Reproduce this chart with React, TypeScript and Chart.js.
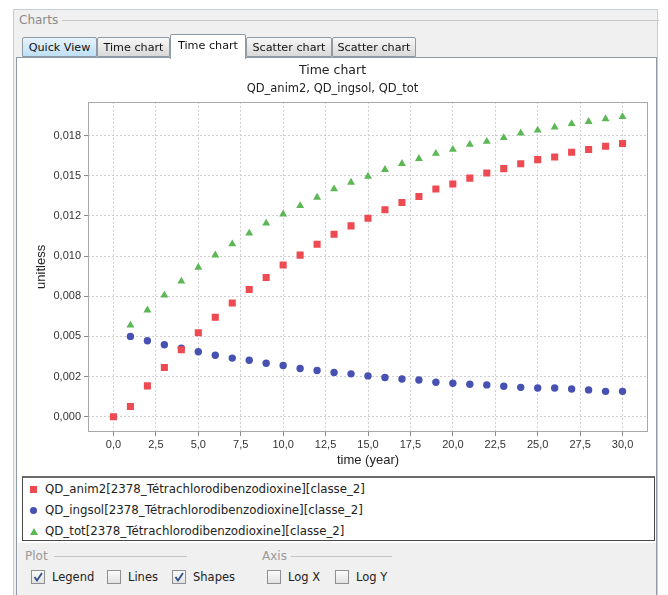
import React, { useEffect, useRef } from "react";
import { Chart, registerables } from "chart.js";

Chart.register(...registerables);

// ---------- data ----------
const chartTitle = "Time chart";
const chartSubtitle = "QD_anim2, QD_ingsol, QD_tot";
const xAxisTitle = "time (year)";
const yAxisTitle = "unitless";

const seriesNames = [
  "QD_anim2[2378_Tétrachlorodibenzodioxine][classe_2]",
  "QD_ingsol[2378_Tétrachlorodibenzodioxine][classe_2]",
  "QD_tot[2378_Tétrachlorodibenzodioxine][classe_2]",
];

const timesAnim2 = [0, 1, 2, 3, 4, 5, 6, 7, 8, 9, 10, 11, 12, 13, 14, 15, 16, 17, 18, 19, 20, 21, 22, 23, 24, 25, 26, 27, 28, 29, 30];
const timesOther = [1, 2, 3, 4, 5, 6, 7, 8, 9, 10, 11, 12, 13, 14, 15, 16, 17, 18, 19, 20, 21, 22, 23, 24, 25, 26, 27, 28, 29, 30];

const qdAnim2 = [
  0.0, 0.00064, 0.00192, 0.00306, 0.00417, 0.00523, 0.00619, 0.00708, 0.00792, 0.00867,
  0.00944, 0.01006, 0.01073, 0.01136, 0.01188, 0.01235, 0.01288, 0.01333, 0.01371, 0.01417,
  0.01448, 0.01485, 0.01517, 0.01544, 0.01575, 0.016, 0.01617, 0.01646, 0.01663, 0.01683, 0.017,
];
const qdIngsol = [
  0.005, 0.00473, 0.00448, 0.00427, 0.00404, 0.00383, 0.00365, 0.00352, 0.00333, 0.00319,
  0.003, 0.00288, 0.00275, 0.00267, 0.00254, 0.00244, 0.00235, 0.00229, 0.00215, 0.00208,
  0.00202, 0.00198, 0.0019, 0.00183, 0.00179, 0.00179, 0.00173, 0.00167, 0.00158, 0.00158,
];
const qdTot = [
  0.00569, 0.00663, 0.00756, 0.00843, 0.00929, 0.01006, 0.01075, 0.01142, 0.01204, 0.01261,
  0.01313, 0.01365, 0.01417, 0.01458, 0.01496, 0.01538, 0.01575, 0.01606, 0.01638, 0.01663,
  0.01694, 0.01713, 0.01736, 0.01765, 0.01783, 0.01802, 0.01823, 0.01836, 0.01854, 0.01867,
];

const xTickValues = [0, 2.5, 5, 7.5, 10, 12.5, 15, 17.5, 20, 22.5, 25, 27.5, 30];
const xTickLabels = ["0,0", "2,5", "5,0", "7,5", "10,0", "12,5", "15,0", "17,5", "20,0", "22,5", "25,0", "27,5", "30,0"];
const yTickValues = [0, 0.0025, 0.005, 0.0075, 0.01, 0.0125, 0.015, 0.0175];
const yTickLabels = ["0,000", "0,002", "0,005", "0,008", "0,010", "0,012", "0,015", "0,018"];

const tabLabels = ["Quick View", "Time chart", "Time chart", "Scatter chart", "Scatter chart"];
const plotOptions = [
  { label: "Legend", checked: true },
  { label: "Lines", checked: false },
  { label: "Shapes", checked: true },
];
const axisOptions = [
  { label: "Log X", checked: false },
  { label: "Log Y", checked: false },
];

// ---------- styles ----------
const RED = "#ee4a52";
const BLUE = "#4651b2";
const GREEN = "#5cb855";
const UI_FONT = "'DejaVu Sans', sans-serif";
const CHART_FONT = "'Liberation Sans', Arial, sans-serif";

const plotFrame = {
  id: "plotFrame",
  afterDraw(chart: any) {
    const { ctx, chartArea } = chart;
    ctx.save();
    ctx.strokeStyle = "#a8a8a8";
    ctx.lineWidth = 1;
    ctx.strokeRect(
      Math.round(chartArea.left) + 0.5,
      Math.round(chartArea.top) + 0.5,
      Math.round(chartArea.right - chartArea.left) - 1,
      Math.round(chartArea.bottom - chartArea.top) - 1
    );
    ctx.restore();
  },
};

function ChartCanvas() {
  const ref = useRef<HTMLCanvasElement | null>(null);
  useEffect(() => {
    if (!ref.current) return;
    const chart = new Chart(ref.current, {
      type: "scatter",
      data: {
        datasets: [
          {
            label: seriesNames[0],
            data: timesAnim2.map((t, i) => ({ x: t, y: qdAnim2[i] })),
            pointStyle: "rect",
            pointRadius: 5,
            backgroundColor: RED,
            borderWidth: 0,
            showLine: false,
          },
          {
            label: seriesNames[1],
            data: timesOther.map((t, i) => ({ x: t, y: qdIngsol[i] })),
            pointStyle: "circle",
            pointRadius: 3.7,
            backgroundColor: BLUE,
            borderWidth: 0,
            showLine: false,
          },
          {
            label: seriesNames[2],
            data: timesOther.map((t, i) => ({ x: t, y: qdTot[i] })),
            pointStyle: "triangle",
            pointRadius: 4.6,
            backgroundColor: GREEN,
            borderWidth: 0,
            showLine: false,
          },
        ],
      },
      options: {
        animation: false,
        responsive: false,
        maintainAspectRatio: false,
        events: [],
        layout: { padding: { left: 0, right: 7, top: 0, bottom: 0 } },
        plugins: {
          legend: { display: false },
          tooltip: { enabled: false },
          title: {
            display: true,
            text: chartTitle,
            color: "#222",
            font: { family: UI_FONT, size: 12.5, weight: "normal", lineHeight: 1.2 },
            padding: { top: 5, bottom: 4 },
          },
          subtitle: {
            display: true,
            text: chartSubtitle,
            color: "#222",
            font: { family: UI_FONT, size: 11.5, weight: "normal", lineHeight: 1.2 },
            padding: { top: 0, bottom: 6 },
          },
        },
        scales: {
          x: {
            type: "linear",
            min: -1.5,
            max: 31.5,
            afterBuildTicks: (scale: any) => {
              scale.ticks = xTickValues.map((v) => ({ value: v }));
            },
            afterFit: (scale: any) => {
              scale.height = 41;
            },
            ticks: {
              autoSkip: false,
              maxRotation: 0,
              padding: 2,
              color: "#333",
              font: { family: CHART_FONT, size: 11 },
              callback: (_v: any, i: number) => xTickLabels[i],
            },
            grid: {
              color: "#cfcfcf",
              lineWidth: 1,
              tickColor: "#8a8a8a",
              tickLength: 4,
              tickBorderDash: [],
            },
            border: { display: false, dash: [2, 2] },
            title: {
              display: true,
              text: xAxisTitle,
              color: "#222",
              font: { family: CHART_FONT, size: 13 },
              padding: { top: 0, bottom: 5 },
            },
          },
          y: {
            type: "linear",
            min: -0.00095,
            max: 0.0196,
            afterBuildTicks: (scale: any) => {
              scale.ticks = yTickValues.map((v) => ({ value: v }));
            },
            afterFit: (scale: any) => {
              scale.width = 71;
            },
            ticks: {
              autoSkip: false,
              padding: 3,
              color: "#333",
              font: { family: CHART_FONT, size: 11 },
              callback: (_v: any, i: number) => yTickLabels[i],
            },
            grid: {
              color: "#cfcfcf",
              lineWidth: 1,
              tickColor: "#8a8a8a",
              tickLength: 4,
              tickBorderDash: [],
            },
            border: { display: false, dash: [2, 2] },
            title: {
              display: true,
              text: yAxisTitle,
              color: "#222",
              font: { family: CHART_FONT, size: 13 },
              padding: { top: 17, bottom: 0 },
            },
          },
        },
      },
      plugins: [plotFrame],
    } as any);
    return () => chart.destroy();
  }, []);
  return <canvas ref={ref} width={638} height={415} style={{ display: "block", width: 638, height: 415 }} />;
}

function Marker({ kind }: { kind: number }) {
  if (kind === 0)
    return <div style={{ width: 7, height: 7, background: RED }} />;
  if (kind === 1)
    return <div style={{ width: 7, height: 7, borderRadius: "50%", background: BLUE }} />;
  return (
    <div
      style={{
        width: 0,
        height: 0,
        borderLeft: "4px solid transparent",
        borderRight: "4px solid transparent",
        borderBottom: `7px solid ${GREEN}`,
      }}
    />
  );
}

function CheckBox({ left, label, checked }: { left: number; label: string; checked: boolean }) {
  return (
    <div style={{ position: "absolute", left, top: 569, height: 16, display: "flex", alignItems: "center" }}>
      <div
        style={{
          width: 14,
          height: 14,
          boxSizing: "border-box",
          border: "1px solid #8e8f8f",
          background: "linear-gradient(#fbfbfb, #e2e2e2)",
          position: "relative",
        }}
      >
        {checked && (
          <svg width="12" height="12" style={{ position: "absolute", left: 0, top: 0 }}>
            <polyline points="2.5,6 5,9.5 10,2" fill="none" stroke="#2d4f88" strokeWidth="1.8" />
          </svg>
        )}
      </div>
      <span style={{ marginLeft: 7, font: `11.5px ${UI_FONT}`, color: "#222" }}>{label}</span>
    </div>
  );
}

const tabGeom = [
  { left: 22, width: 75 },
  { left: 97, width: 73 },
  { left: 170, width: 76 },
  { left: 246, width: 86 },
  { left: 332, width: 84 },
];

export default function App() {
  return (
    <div
      style={{
        position: "fixed",
        left: 0,
        top: 0,
        width: 668,
        height: 595,
        background: "#ffffff",
        overflow: "hidden",
        fontFamily: UI_FONT,
      }}
    >
      {/* outer panel */}
      <div
        style={{
          position: "absolute",
          left: 13,
          top: 9,
          width: 645,
          height: 620,
          boxSizing: "border-box",
          border: "1px solid #c6cdd4",
          background: "#f0f0f0",
        }}
      />
      {/* titled border */}
      <div style={{ position: "absolute", left: 19, top: 13, font: `12px ${UI_FONT}`, color: "#8a8a8a" }}>Charts</div>
      <div style={{ position: "absolute", left: 62, top: 20, width: 597, height: 1, background: "#c8c8c8" }} />

      {/* content pane */}
      <div
        style={{
          position: "absolute",
          left: 16,
          top: 57,
          width: 641,
          height: 620,
          boxSizing: "border-box",
          border: "1px solid #8e9aa6",
          background: "#f0f0f0",
        }}
      />

      {/* tabs */}
      {tabLabels.map((t, i) => {
        const sel = i === 2;
        const g = tabGeom[i];
        const bg = sel
          ? "#ffffff"
          : i === 0
          ? "linear-gradient(#e6f3fc, #bfe0f5)"
          : "linear-gradient(#f7f7f7, #d9d9d9)";
        return (
          <div
            key={i}
            style={{
              position: "absolute",
              left: g.left,
              top: sel ? 34 : 37,
              width: g.width,
              height: sel ? 25 : 20,
              boxSizing: "border-box",
              border: "1px solid #8e9aa6",
              borderBottom: sel ? "none" : "1px solid #8e9aa6",
              borderRadius: "2px 2px 0 0",
              background: bg,
              font: `11.2px ${UI_FONT}`,
              color: "#111",
              textAlign: "center",
              lineHeight: sel ? "22px" : "20px",
              zIndex: sel ? 3 : 2,
              whiteSpace: "nowrap",
            }}
          >
            {t}
          </div>
        );
      })}

      {/* white chart panel */}
      <div style={{ position: "absolute", left: 17, top: 58, width: 639, height: 485, background: "#ffffff" }} />

      {/* chart */}
      <div style={{ position: "absolute", left: 17, top: 58, width: 638, height: 415 }}>
        <ChartCanvas />
      </div>

      {/* legend box */}
      <div
        style={{
          position: "absolute",
          left: 22,
          top: 476,
          width: 633,
          height: 65,
          boxSizing: "border-box",
          border: "1px solid #4a4a4a",
          borderTop: "2px solid #6a6a6a",
          background: "#ffffff",
        }}
      >
        {seriesNames.map((n, i) => (
          <div
            key={i}
            style={{
              position: "absolute",
              left: 6,
              top: 2 + i * 21,
              height: 18,
              display: "flex",
              alignItems: "center",
              whiteSpace: "nowrap",
            }}
          >
            <div style={{ width: 9, display: "flex", justifyContent: "center" }}>
              <Marker kind={i} />
            </div>
            <span style={{ marginLeft: 7, font: `11.8px ${UI_FONT}`, color: "#222" }}>{n}</span>
          </div>
        ))}
      </div>

      {/* Plot / Axis groups */}
      <div style={{ position: "absolute", left: 25, top: 549, font: `12px ${UI_FONT}`, color: "#9a9a9a" }}>Plot</div>
      <div style={{ position: "absolute", left: 54, top: 556, width: 133, height: 1, background: "#c4c4c4" }} />
      <div style={{ position: "absolute", left: 262, top: 549, font: `12px ${UI_FONT}`, color: "#9a9a9a" }}>Axis</div>
      <div style={{ position: "absolute", left: 291, top: 556, width: 101, height: 1, background: "#c4c4c4" }} />

      {plotOptions.map((o, i) => (
        <CheckBox key={"p" + i} left={[31, 107, 172][i]} label={o.label} checked={o.checked} />
      ))}
      {axisOptions.map((o, i) => (
        <CheckBox key={"a" + i} left={[267, 335][i]} label={o.label} checked={o.checked} />
      ))}
    </div>
  );
}
